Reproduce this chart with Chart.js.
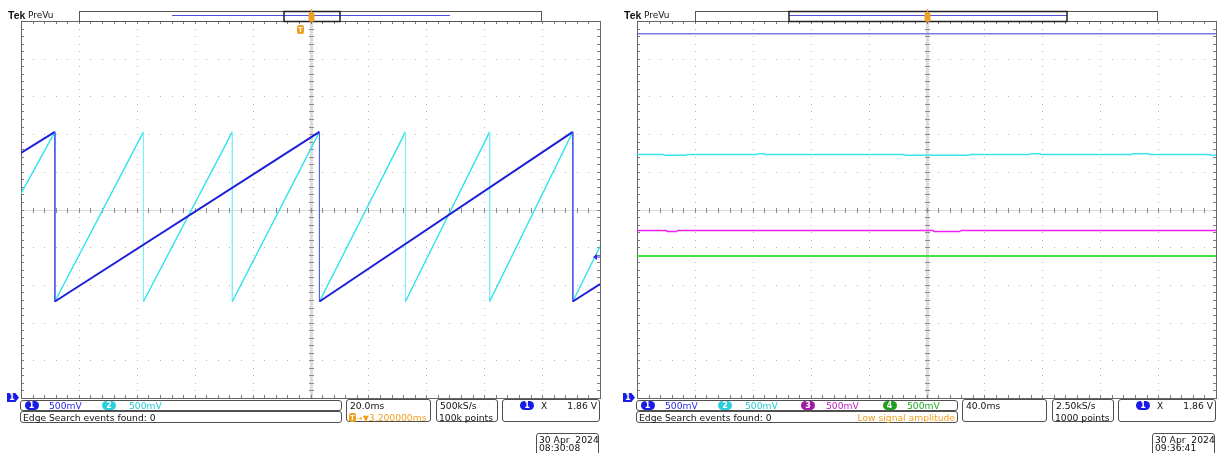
<!DOCTYPE html>
<html>
<head>
<meta charset="utf-8">
<script src="https://cdn.jsdelivr.net/npm/chart.js@4.4.1/dist/chart.umd.min.js"></script>
<style>
  body { margin: 0; background: #fff; width: 1219px; height: 453px; position: relative; overflow: hidden;
         font-family: "DejaVu Sans", sans-serif; }
  canvas { position: absolute; top: 0; }
  .t { position: absolute; font-size: 9.2px; line-height: 10px; white-space: nowrap; color: #111; }
  .box { position: absolute; border: 1px solid #505050; border-radius: 3px; box-sizing: border-box; }
  .badge { position: absolute; width: 14px; height: 9px; border-radius: 5px; color: #fff; font-size: 8px;
           line-height: 9px; font-weight: bold; text-align: center; }
  .gnd { position: absolute; width: 12px; height: 9px; background: #1a1ae6; color: #fff; font-size: 8px;
         line-height: 9px; font-weight: bold; padding-left: 2px; box-sizing: border-box;
         clip-path: polygon(0 0, 70% 0, 100% 50%, 70% 100%, 0 100%); }
  .tb { display: inline-block; background: #f0a020; color: #fff; font: bold 8px/9px "Liberation Sans", sans-serif;
        width: 7px; height: 9px; text-align: center; border-radius: 2px; vertical-align: top; }
</style>
</head>
<body>
<canvas id="left" width="610" height="453" style="left:0"></canvas>
<canvas id="right" width="610" height="453" style="left:616px"></canvas>
<script>
// 20 ms/div capture, time in ms, volts (500 mV/div)
const leftTimes1 = [-100, -88.3, -88.3, 3.1, 3.1, 90.6, 90.6, 100];
const leftVolts1 = [0.75, 1.03, -1.22, 1.03, -1.22, 1.03, -1.22, -0.99];
const leftTimes2 = [-100, -88.3, -88.3, -57.7, -57.7, -27.0, -27.0, 3.1, 3.1, 32.8, 32.8, 61.9, 61.9, 90.6, 90.6, 100];
const leftVolts2 = [0.21, 1.03, -1.22, 1.03, -1.22, 1.03, -1.22, 1.03, -1.22, 1.03, -1.22, 1.03, -1.22, 1.03, -1.22, -0.49];
const leftLevel = -0.63;

// 40 ms/div capture
const rightTimes1 = [-200, 200];
const rightVolts1 = [2.33, 2.33];
const rightTimes2 = [-200, -181.4, -181.4, -165.5, -165.5, -116.6, -116.6, -111.7, -111.7, -15.2, -15.2, 29.7, 29.7, 71.7, 71.7, 78.6, 78.6, 142, 142, 153.8, 153.8, 195.9, 195.9, 200];
const rightVolts2 = [0.73, 0.73, 0.72, 0.72, 0.73, 0.73, 0.74, 0.74, 0.73, 0.73, 0.72, 0.72, 0.73, 0.73, 0.74, 0.74, 0.73, 0.73, 0.74, 0.74, 0.73, 0.73, 0.72, 0.72];
const rightTimes3 = [-200, -179.3, -179.3, -172.4, -172.4, 4.8, 4.8, 23.4, 23.4, 200];
const rightVolts3 = [-0.279, -0.279, -0.292, -0.292, -0.279, -0.279, -0.292, -0.292, -0.279, -0.279];
const rightTimes4 = [-200, 200];
const rightVolts4 = [-0.617, -0.617];

const chanBadge = ['#1a1ae6', '#2ad0dc', '#a01aa0', '#1e9e1e'];
const chanText = ['#2a2af0', '#22ccd8', '#c020c0', '#1faa1f'];

const scopePlugin = {
  id: 'scope',
  beforeDatasetsDraw(chart) {
    const ctx = chart.ctx;
    const { left, right, top, bottom } = chart.chartArea;
    const w = right - left, h = bottom - top, dx = w / 10, dy = h / 10;
    const cx = Math.round(left + w / 2), cy = Math.round(top + h / 2);
    ctx.save();
    ctx.fillStyle = '#b4b4b4';
    for (let i = 1; i < 10; i++) {
      if (i === 5) continue;
      const x = Math.round(left + i * dx), y = Math.round(top + i * dy);
      for (let k = 1; k < 50; k++) {
        ctx.fillRect(x, Math.round(top + k * dy / 5), 1, 1);
        ctx.fillRect(Math.round(left + k * dx / 5), y, 1, 1);
      }
    }
    ctx.fillStyle = '#dcdcdc';
    ctx.fillRect(cx - 1, top, 3, h);
    ctx.fillRect(left, cy, w, 1);
    for (let k = 1; k < 50; k++) {
      const x = Math.round(left + k * dx / 5), y = Math.round(top + k * dy / 5);
      ctx.fillStyle = '#8c8c8c';
      ctx.fillRect(x, cy - 2, 1, 5);
      ctx.fillRect(cx - 2, y, 5, 1);
      ctx.fillStyle = '#7c7c7c';
      ctx.fillRect(x, top, 1, 3);
      ctx.fillRect(x, bottom - 3, 1, 3);
      ctx.fillRect(left, y, 3, 1);
      ctx.fillRect(right - 3, y, 3, 1);
    }
    ctx.strokeStyle = '#666';
    ctx.lineWidth = 1;
    ctx.strokeRect(left + 0.5, top + 0.5, w, h);
    ctx.restore();
  },
  afterDraw(chart, args, o) {
    const ctx = chart.ctx;
    const { left, right, top } = chart.chartArea;
    const cx = Math.round((left + right) / 2);
    ctx.save();
    // record view bar
    ctx.strokeStyle = '#555';
    ctx.lineWidth = 1;
    ctx.strokeRect(o.bar[0] + 0.5, 11.5, o.bar[1] - o.bar[0], top - 11);
    ctx.strokeStyle = '#5050d8';
    ctx.beginPath();
    ctx.moveTo(o.rec[0], 15.5);
    ctx.lineTo(o.rec[1], 15.5);
    ctx.stroke();
    ctx.strokeStyle = '#222';
    ctx.lineWidth = 1.5;
    ctx.strokeRect(o.win[0], 11.5, o.win[1] - o.win[0], top - 11);
    // trigger position marker
    ctx.fillStyle = '#f0a020';
    ctx.beginPath();
    ctx.roundRect(cx - 2.5, 12, 6, 10, 3);
    ctx.fill();
    ctx.fillRect(cx, 9, 1, 4);
    // trigger level marker
    if (o.level !== null) {
      const y = chart.scales.y.getPixelForValue(o.level);
      ctx.fillStyle = '#2a2af0';
      ctx.beginPath();
      ctx.moveTo(right - 7, y);
      ctx.lineTo(right - 3, y - 3);
      ctx.lineTo(right - 3, y + 3);
      ctx.closePath();
      ctx.fill();
      ctx.fillRect(right - 4, y - 0.5, 4, 1);
    }
    ctx.restore();
  }
};

function makeChart(id, xMax, series, deco) {
  return new Chart(document.getElementById(id), {
    type: 'line',
    data: {
      datasets: series.map(s => ({
        data: s.t.map((t, i) => ({ x: t, y: s.v[i] })),
        borderColor: s.color,
        borderWidth: s.width,
        pointRadius: 0,
        tension: 0,
        fill: false,
        segment: {
          borderWidth: c => c.p0.parsed.x === c.p1.parsed.x ? 1 : s.width,
          borderColor: c => c.p0.parsed.x === c.p1.parsed.x ? s.edge : s.color
        }
      }))
    },
    options: {
      responsive: false,
      animation: false,
      layout: { padding: { left: 21, right: 10, top: 21, bottom: 55 } },
      plugins: { legend: { display: false }, tooltip: { enabled: false }, scope: deco },
      scales: {
        x: { type: 'linear', min: -xMax, max: xMax, display: false },
        y: { type: 'linear', min: -2.5, max: 2.5, display: false }
      }
    },
    plugins: [scopePlugin]
  });
}

makeChart('left', 100, [
  { t: leftTimes1, v: leftVolts1, color: '#1e1ed8', edge: '#5a5af0', width: 2 },
  { t: leftTimes2, v: leftVolts2, color: '#30e2ec', edge: '#80eef4', width: 1.4 }
], { bar: [79, 541], rec: [172, 450], win: [284, 340], level: leftLevel });

makeChart('right', 200, [
  { t: rightTimes1, v: rightVolts1, color: '#3a3ad8', edge: '#3a3ad8', width: 1 },
  { t: rightTimes2, v: rightVolts2, color: '#38e4ee', edge: '#38e4ee', width: 1.5 },
  { t: rightTimes3, v: rightVolts3, color: '#f020f0', edge: '#f020f0', width: 1.5 },
  { t: rightTimes4, v: rightVolts4, color: '#40e040', edge: '#40e040', width: 2 }
], { bar: [79, 541], rec: [173, 451], win: [173, 451], level: null });

// readouts
const panels = [
  { off: 0, chans: [1, 2], time: '20.0ms', delay: '3.200000ms', rate: '500kS/s', points: '100k points',
    warn: '', date: '30 Apr\u00a0\u00a02024', clock: '08:30:08', tBadge: true },
  { off: 616, chans: [1, 2, 3, 4], time: '40.0ms', delay: '', rate: '2.50kS/s', points: '1000 points',
    warn: 'Low signal amplitude', date: '30 Apr\u00a0\u00a02024', clock: '09:36:41', tBadge: false }
];
const badgeX = [31.5, 109, 192, 273.5];
const labelX = [49, 129, 210, 291];

function el(cls, x, y, html, css) {
  const d = document.createElement('div');
  d.className = cls;
  d.style.left = x + 'px';
  d.style.top = y + 'px';
  d.innerHTML = html;
  if (css) Object.assign(d.style, css);
  document.body.appendChild(d);
  return d;
}

panels.forEach(p => {
  const o = p.off;
  el('t', o + 8, 9.5, 'Tek', { fontWeight: 'bold', fontSize: '10.5px', lineHeight: '10.5px', fontFamily: '"Liberation Sans"' });
  el('t', o + 28, 10, 'PreVu', { fontSize: '9px' });
  el('gnd', o + 7, 393, '1');
  if (p.tBadge) el('t', o + 297, 25, '<span class="tb">T</span>');

  el('box', o + 20, 400, '', { width: '322px', height: '11px' });
  el('box', o + 20, 411, '', { width: '322px', height: '12px' });
  el('box', o + 346, 399, '', { width: '85px', height: '23px' });
  el('box', o + 436, 399, '', { width: '62px', height: '23px' });
  el('box', o + 502, 399, '', { width: '98px', height: '23px' });
  el('box', o + 536, 433, '', { width: '63px', height: '24px' });

  p.chans.forEach((c, i) => {
    el('badge', o + badgeX[i] - 7, 401, String(c), { background: chanBadge[c - 1] });
    el('t', o + labelX[i], 400.5, '500mV', { color: chanText[c - 1] });
  });
  el('t', o + 23, 412.5, 'Edge Search events found: 0');
  if (p.warn) el('t', o + 200, 412.5, p.warn, { color: '#f0a020', width: '139px', textAlign: 'right' });

  el('t', o + 350, 400.5, p.time);
  if (p.delay) el('t', o + 349, 412.5, '<span class="tb">T</span><span style="font-size:8px">\u2192\u25BC</span>' + p.delay, { color: '#f0a020' });
  el('t', o + 440, 400.5, p.rate);
  el('t', o + 439, 412.5, p.points);

  el('badge', o + 520, 401, '1', { background: chanBadge[0] });
  el('t', o + 541, 400.5, '\u2169', { fontSize: '9px' });
  el('t', o + 540, 400.5, '1.86 V', { width: '57px', textAlign: 'right' });

  el('t', o + 539, 434.5, p.date);
  el('t', o + 539, 443, p.clock);
});
</script>
</body>
</html>
